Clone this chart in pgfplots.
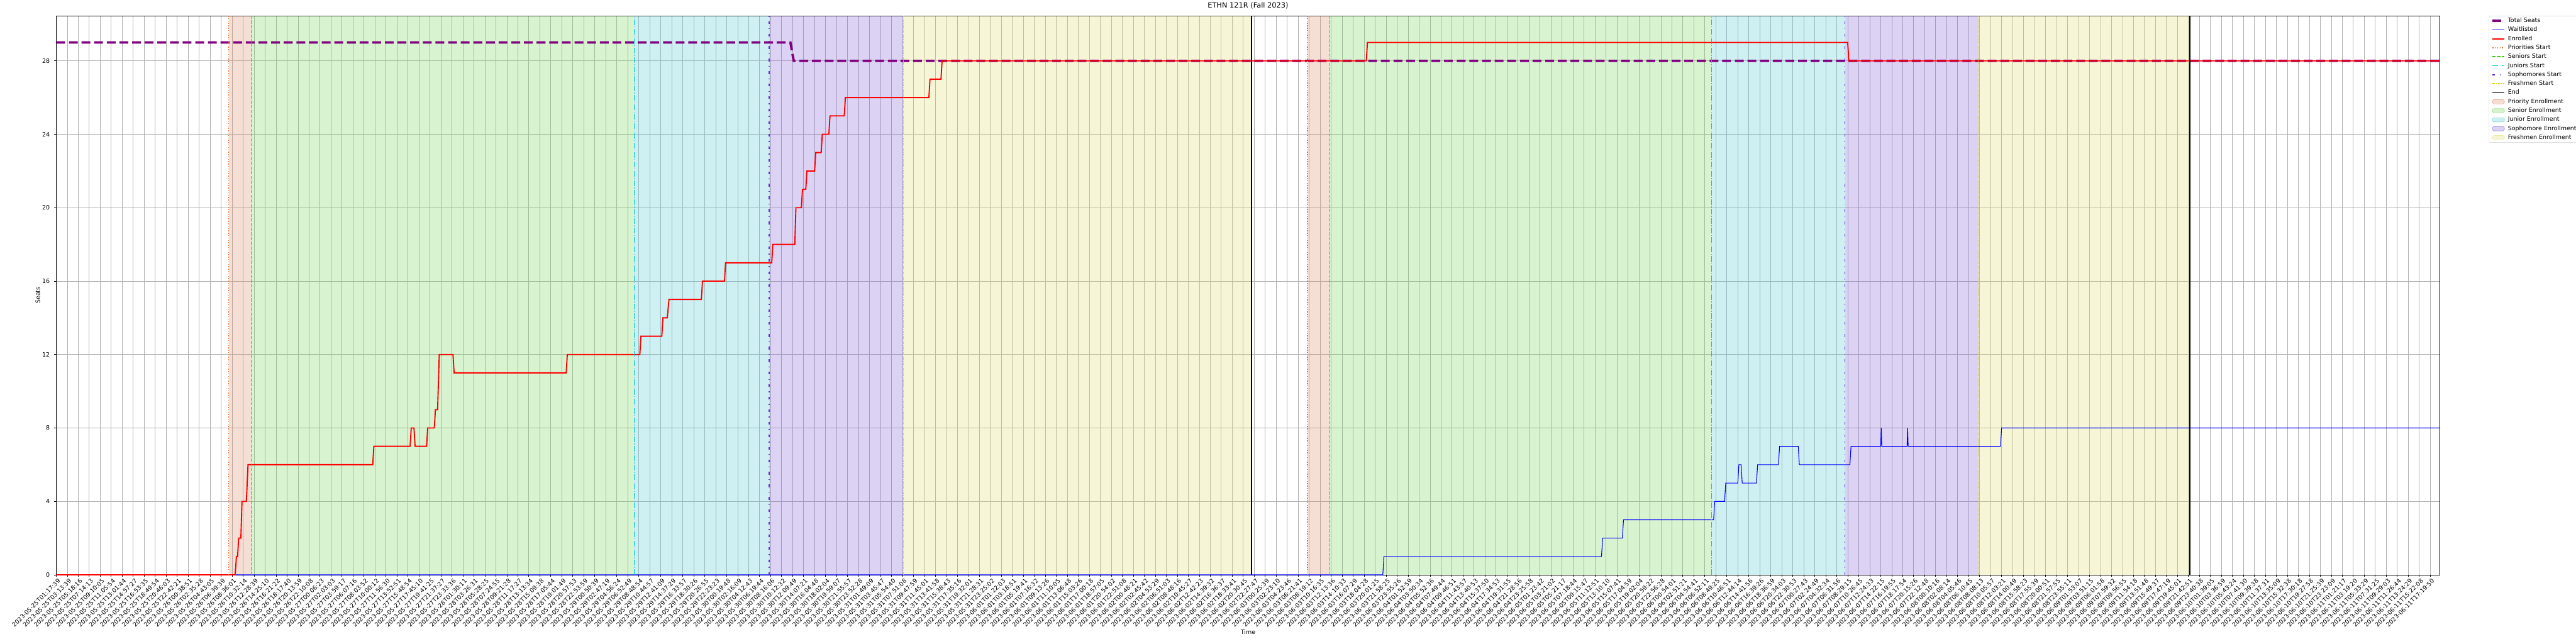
\documentclass[border=0pt]{standalone}
\usepackage{fontspec}
\setmainfont{DejaVu Sans}
\usepackage{pgfplots}
\pgfplotsset{compat=1.18}
\definecolor{gridc}{RGB}{176,176,176}
\definecolor{seatc}{RGB}{128,0,128}
\definecolor{prioL}{RGB}{240,110,50}
\definecolor{senL}{RGB}{60,200,20}
\definecolor{junL}{RGB}{0,200,210}
\definecolor{sophL}{RGB}{100,40,220}
\definecolor{freshL}{RGB}{215,215,40}
\definecolor{prioF}{RGB}{222,145,112}
\definecolor{senF}{RGB}{125,215,98}
\definecolor{junF}{RGB}{92,205,212}
\definecolor{sophF}{RGB}{138,105,215}
\definecolor{freshF}{RGB}{225,225,122}
\begin{document}
\begin{tikzpicture}
\begin{axis}[
  at={(0pt,0pt)}, anchor=south west,
  scale only axis, width=3997.4pt, height=937.4pt,
  xmin=0, xmax=216.88, ymin=0, ymax=30.45,
  xtick={0,...,216},
  xticklabels={2023-05-25T01:17:39,2023-05-25T03:13:39,2023-05-25T05:18:16,2023-05-25T07:14:13,2023-05-25T09:10:05,2023-05-25T11:05:54,2023-05-25T13:01:44,2023-05-25T14:57:27,2023-05-25T16:53:35,2023-05-25T18:49:54,2023-05-25T20:46:03,2023-05-25T22:42:21,2023-05-26T00:38:51,2023-05-26T02:35:28,2023-05-26T04:43:05,2023-05-26T06:39:39,2023-05-26T08:36:01,2023-05-26T10:32:14,2023-05-26T12:28:39,2023-05-26T14:25:10,2023-05-26T16:21:22,2023-05-26T18:17:40,2023-05-26T20:13:59,2023-05-26T22:10:08,2023-05-27T00:06:23,2023-05-27T02:03:03,2023-05-27T03:59:17,2023-05-27T06:07:16,2023-05-27T08:03:52,2023-05-27T10:00:12,2023-05-27T11:56:30,2023-05-27T13:52:51,2023-05-27T15:48:54,2023-05-27T17:45:10,2023-05-27T19:41:25,2023-05-27T21:37:27,2023-05-27T23:33:36,2023-05-28T01:30:11,2023-05-28T03:26:31,2023-05-28T05:28:25,2023-05-28T07:24:55,2023-05-28T09:21:28,2023-05-28T11:17:27,2023-05-28T13:13:34,2023-05-28T15:09:38,2023-05-28T17:05:44,2023-05-28T19:01:49,2023-05-28T20:57:53,2023-05-28T22:53:59,2023-05-29T00:50:39,2023-05-29T02:47:19,2023-05-29T04:56:24,2023-05-29T06:52:49,2023-05-29T08:48:54,2023-05-29T10:44:57,2023-05-29T12:41:09,2023-05-29T14:37:29,2023-05-29T16:33:57,2023-05-29T18:30:26,2023-05-29T20:26:55,2023-05-29T22:23:23,2023-05-30T00:19:48,2023-05-30T02:16:09,2023-05-30T04:12:43,2023-05-30T06:19:44,2023-05-30T08:16:06,2023-05-30T10:12:32,2023-05-30T12:09:49,2023-05-30T14:07:21,2023-05-30T16:04:48,2023-05-30T18:02:04,2023-05-30T19:59:07,2023-05-30T21:55:57,2023-05-30T23:52:28,2023-05-31T01:49:09,2023-05-31T03:45:47,2023-05-31T05:54:40,2023-05-31T07:51:08,2023-05-31T09:47:59,2023-05-31T11:45:01,2023-05-31T13:41:58,2023-05-31T15:38:43,2023-05-31T17:35:16,2023-05-31T19:32:01,2023-05-31T21:28:31,2023-05-31T23:25:02,2023-06-01T01:22:03,2023-06-01T03:18:51,2023-06-01T05:19:41,2023-06-01T07:16:32,2023-06-01T09:13:26,2023-06-01T11:10:05,2023-06-01T13:06:48,2023-06-01T15:03:26,2023-06-01T17:00:18,2023-06-01T18:57:05,2023-06-01T20:54:02,2023-06-01T22:51:08,2023-06-02T00:48:21,2023-06-02T02:45:42,2023-06-02T04:53:29,2023-06-02T06:51:03,2023-06-02T08:48:16,2023-06-02T10:45:27,2023-06-02T12:42:23,2023-06-02T14:39:32,2023-06-02T16:36:37,2023-06-02T18:33:41,2023-06-02T20:30:45,2023-06-02T22:27:47,2023-06-03T00:25:39,2023-06-03T02:23:10,2023-06-03T04:23:46,2023-06-03T06:21:41,2023-06-03T08:19:12,2023-06-03T10:16:35,2023-06-03T12:13:36,2023-06-03T14:10:33,2023-06-03T16:07:29,2023-06-03T18:04:28,2023-06-03T20:01:25,2023-06-03T21:58:25,2023-06-03T23:55:26,2023-06-04T01:52:59,2023-06-04T03:50:34,2023-06-04T05:52:36,2023-06-04T07:49:44,2023-06-04T09:46:51,2023-06-04T11:43:57,2023-06-04T13:40:53,2023-06-04T15:37:50,2023-06-04T17:34:53,2023-06-04T19:31:55,2023-06-04T21:28:56,2023-06-04T23:25:58,2023-06-05T01:23:42,2023-06-05T03:21:02,2023-06-05T05:21:17,2023-06-05T07:18:44,2023-06-05T09:15:47,2023-06-05T11:12:51,2023-06-05T13:10:10,2023-06-05T15:07:41,2023-06-05T17:04:59,2023-06-05T19:02:04,2023-06-05T20:59:22,2023-06-05T22:56:28,2023-06-06T00:54:01,2023-06-06T02:51:21,2023-06-06T04:54:41,2023-06-06T06:52:11,2023-06-06T08:49:25,2023-06-06T10:46:51,2023-06-06T12:44:14,2023-06-06T14:41:56,2023-06-06T16:39:26,2023-06-06T18:36:59,2023-06-06T20:34:03,2023-06-06T22:30:53,2023-06-07T00:27:43,2023-06-07T02:24:49,2023-06-07T04:32:34,2023-06-07T06:31:56,2023-06-07T08:29:15,2023-06-07T10:26:45,2023-06-07T12:24:33,2023-06-07T14:22:15,2023-06-07T16:19:55,2023-06-07T18:17:54,2023-06-07T20:15:26,2023-06-07T22:12:48,2023-06-08T00:10:16,2023-06-08T02:08:14,2023-06-08T04:05:46,2023-06-08T06:10:45,2023-06-08T08:08:13,2023-06-08T10:05:57,2023-06-08T12:03:21,2023-06-08T14:00:49,2023-06-08T15:58:23,2023-06-08T17:55:39,2023-06-08T20:00:51,2023-06-08T21:57:55,2023-06-08T23:55:11,2023-06-09T01:53:07,2023-06-09T03:51:15,2023-06-09T06:01:58,2023-06-09T07:59:32,2023-06-09T09:56:55,2023-06-09T11:54:18,2023-06-09T13:51:48,2023-06-09T15:49:37,2023-06-09T17:47:19,2023-06-09T19:45:01,2023-06-09T21:42:51,2023-06-09T23:40:38,2023-06-10T01:39:05,2023-06-10T03:36:59,2023-06-10T05:43:24,2023-06-10T07:41:30,2023-06-10T09:39:38,2023-06-10T11:37:31,2023-06-10T13:35:09,2023-06-10T15:32:38,2023-06-10T17:30:18,2023-06-10T19:27:58,2023-06-10T21:25:39,2023-06-10T23:23:09,2023-06-11T01:21:17,2023-06-11T03:19:20,2023-06-11T05:33:29,2023-06-11T07:31:25,2023-06-11T09:29:03,2023-06-11T11:26:44,2023-06-11T13:24:29,2023-06-11T15:22:08,2023-06-11T17:19:50},
  ytick={0,4,...,28},
  xtick pos=bottom, ytick pos=left,
  tick align=outside, major tick length=3.5pt,
  tick style={black, line width=0.8pt},
  axis line style={line width=0.8pt},
  grid=major, major grid style={gridc, line width=0.8pt},
  /pgf/number format/assume math mode=true,
  xticklabel style={rotate=45, anchor=east, font=\fontsize{10}{12}\selectfont, inner sep=0pt, yshift=-7pt},
  yticklabel style={font=\fontsize{10}{12}\selectfont, inner sep=0pt, xshift=-7pt, anchor=east},
  title={ETHN 121R (Fall 2023)},
  title style={font=\fontsize{12}{14}\selectfont, yshift=2pt},
  xlabel={Time}, ylabel={Seats},
  label style={font=\fontsize{10}{12}\selectfont},
  legend style={at={(1.0205,1)}, anchor=north west, draw=black!20, rounded corners=2pt,
    fill=white, font=\fontsize{10}{12}\selectfont, inner xsep=4pt, inner ysep=3pt,
    row sep=5.2pt, nodes={inner xsep=4pt, inner ysep=0pt, text height=7.6pt, text depth=2.3pt}},
  legend cell align=left,
  legend image code/.code={\draw[#1] (0pt,0pt) -- (20pt,0pt);},
]
% shaded periods (cycle 1 and cycle 2)
\addplot[draw=none, fill=prioF, fill opacity=0.3, forget plot] coordinates {(15.69,0) (17.75,0) (17.75,30.45) (15.69,30.45)} -- cycle;
\addplot[draw=none, fill=senF, fill opacity=0.3, forget plot] coordinates {(17.75,0) (52.58,0) (52.58,30.45) (17.75,30.45)} -- cycle;
\addplot[draw=none, fill=junF, fill opacity=0.3, forget plot] coordinates {(52.58,0) (64.86,0) (64.86,30.45) (52.58,30.45)} -- cycle;
\addplot[draw=none, fill=sophF, fill opacity=0.3, forget plot] coordinates {(64.86,0) (77.07,0) (77.07,30.45) (64.86,30.45)} -- cycle;
\addplot[draw=none, fill=freshF, fill opacity=0.3, forget plot] coordinates {(77.07,0) (108.76,0) (108.76,30.45) (77.07,30.45)} -- cycle;
\addplot[draw=none, fill=prioF, fill opacity=0.3, forget plot] coordinates {(113.84,0) (115.88,0) (115.88,30.45) (113.84,30.45)} -- cycle;
\addplot[draw=none, fill=senF, fill opacity=0.3, forget plot] coordinates {(115.88,0) (150.6,0) (150.6,30.45) (115.88,30.45)} -- cycle;
\addplot[draw=none, fill=junF, fill opacity=0.3, forget plot] coordinates {(150.6,0) (162.75,0) (162.75,30.45) (150.6,30.45)} -- cycle;
\addplot[draw=none, fill=sophF, fill opacity=0.3, forget plot] coordinates {(162.75,0) (174.93,0) (174.93,30.45) (162.75,30.45)} -- cycle;
\addplot[draw=none, fill=freshF, fill opacity=0.3, forget plot] coordinates {(174.93,0) (194.15,0) (194.15,30.45) (174.93,30.45)} -- cycle;
% Total seats
\addplot[seatc, line width=4pt, dash pattern=on 14.8pt off 6.4pt] coordinates {(0,29) (66.8,29) (67.1,28) (216.88,28)};
\addlegendentry{Total Seats}
% Waitlisted
\addplot[blue, line width=1.2pt] coordinates {(0,0) (120.7,0) (120.8,1) (140.6,1) (140.7,2) (142.5,2) (142.6,3) (150.8,3) (150.9,4) (151.8,4) (151.9,5) (153.0,5) (153.1,6) (153.3,6) (153.4,5) (154.7,5) (154.8,6) (156.7,6) (156.8,7) (158.5,7) (158.6,6) (163.2,6) (163.3,7) (166.0,7) (166.05,8) (166.1,7) (168.4,7) (168.45,8) (168.5,7) (176.9,7) (177.0,8) (216.88,8)};
\addlegendentry{Waitlisted}
% Enrolled
\addplot[red, line width=2pt] coordinates {(0,0) (16.28,0) (16.4,1) (16.5,1) (16.6,2) (16.8,2) (16.9,4) (17.3,4) (17.45,6) (28.8,6) (28.9,7) (32.2,7) (32.3,8) (32.55,8) (32.65,7) (33.7,7) (33.8,8) (34.4,8) (34.5,9) (34.7,9) (34.85,12) (36.1,12) (36.2,11) (46.4,11) (46.5,12) (53.1,12) (53.2,13) (55.1,13) (55.2,14) (55.6,14) (55.75,15) (58.7,15) (58.8,16) (60.8,16) (60.9,17) (65.1,17) (65.2,18) (67.2,18) (67.3,20) (67.8,20) (67.9,21) (68.2,21) (68.3,22) (69.0,22) (69.1,23) (69.6,23) (69.7,24) (70.3,24) (70.4,25) (71.7,25) (71.8,26) (79.4,26) (79.5,27) (80.5,27) (80.6,28) (119.2,28) (119.3,29) (163.0,29) (163.1,28) (216.88,28)};
\addlegendentry{Enrolled}
% start lines
\addplot[prioL, line width=1.5pt, dash pattern=on 1.5pt off 2.5pt] coordinates {(15.69,0) (15.69,30.45)};
\addlegendentry{Priorities Start}
\addplot[senL, line width=1.5pt, dash pattern=on 5.5pt off 2.4pt] coordinates {(17.75,0) (17.75,30.45)};
\addlegendentry{Seniors Start}
\addplot[junL, line width=1.5pt, dash pattern=on 9.6pt off 2.4pt on 1.5pt off 2.4pt] coordinates {(52.58,0) (52.58,30.45)};
\addlegendentry{Juniors Start}
\addplot[sophL, line width=1.5pt, dash pattern=on 4.5pt off 7.5pt on 1.5pt off 7.5pt] coordinates {(64.86,0) (64.86,30.45)};
\addlegendentry{Sophomores Start}
\addplot[freshL, line width=1.5pt, dash pattern=on 4.5pt off 1.5pt on 1.5pt off 1.5pt] coordinates {(77.07,0) (77.07,30.45)};
\addlegendentry{Freshmen Start}
\addplot[black, line width=2pt] coordinates {(108.76,0) (108.76,30.45)};
\addlegendentry{End}
\addplot[prioL, line width=1.5pt, dash pattern=on 1.5pt off 2.5pt, forget plot] coordinates {(113.84,0) (113.84,30.45)};
\addplot[senL, line width=1.5pt, dash pattern=on 5.5pt off 2.4pt, forget plot] coordinates {(115.88,0) (115.88,30.45)};
\addplot[junL, line width=1.5pt, dash pattern=on 9.6pt off 2.4pt on 1.5pt off 2.4pt, forget plot] coordinates {(150.6,0) (150.6,30.45)};
\addplot[sophL, line width=1.5pt, dash pattern=on 4.5pt off 7.5pt on 1.5pt off 7.5pt, forget plot] coordinates {(162.75,0) (162.75,30.45)};
\addplot[freshL, line width=1.5pt, dash pattern=on 4.5pt off 1.5pt on 1.5pt off 1.5pt, forget plot] coordinates {(174.93,0) (174.93,30.45)};
\addplot[black, line width=2pt, forget plot] coordinates {(194.15,0) (194.15,30.45)};
% legend entries for shaded periods
\addlegendimage{legend image code/.code={\fill[prioF, fill opacity=0.3] (0pt,-3.6pt) rectangle (20pt,3.6pt);}}
\addlegendentry{Priority Enrollment}
\addlegendimage{legend image code/.code={\fill[senF, fill opacity=0.3] (0pt,-3.6pt) rectangle (20pt,3.6pt);}}
\addlegendentry{Senior Enrollment}
\addlegendimage{legend image code/.code={\fill[junF, fill opacity=0.3] (0pt,-3.6pt) rectangle (20pt,3.6pt);}}
\addlegendentry{Junior Enrollment}
\addlegendimage{legend image code/.code={\fill[sophF, fill opacity=0.3] (0pt,-3.6pt) rectangle (20pt,3.6pt);}}
\addlegendentry{Sophomore Enrollment}
\addlegendimage{legend image code/.code={\fill[freshF, fill opacity=0.3] (0pt,-3.6pt) rectangle (20pt,3.6pt);}}
\addlegendentry{Freshmen Enrollment}
\end{axis}
\pgfresetboundingbox
\path[use as bounding box] (-94.3pt,-115.9pt) rectangle (4225.7pt,964.0pt);
\end{tikzpicture}
\end{document}
